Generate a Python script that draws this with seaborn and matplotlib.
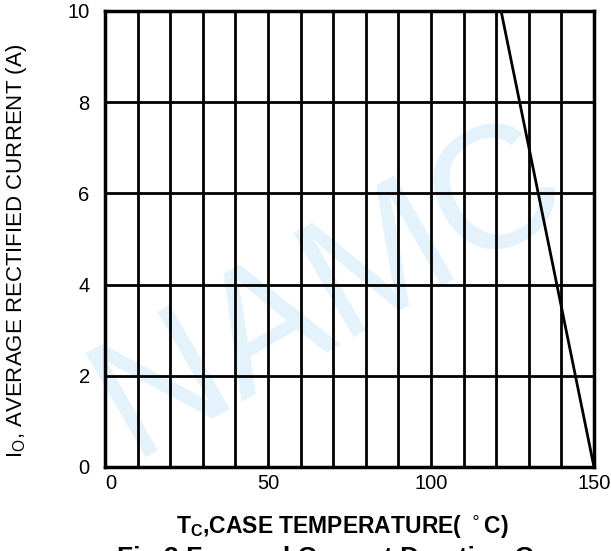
import matplotlib
matplotlib.use("Agg")
import matplotlib.pyplot as plt
import seaborn as sns
import pandas as pd

# Data
temperature = [121.5, 150]
current = [10, 0]
x_ticks = [0, 50, 100, 150]
y_ticks = [0, 2, 4, 6, 8, 10]
x_grid = list(range(0, 151, 10))
y_grid = [0, 2, 4, 6, 8, 10]

sns.set_theme(style="white")
plt.rcParams['font.family'] = ['Liberation Sans', 'DejaVu Sans']
plt.rcParams['text.color'] = 'black'
plt.rcParams['axes.labelcolor'] = 'black'
plt.rcParams['xtick.color'] = 'black'
plt.rcParams['ytick.color'] = 'black'

fig = plt.figure(figsize=(6.11, 5.51), dpi=100)
ax = fig.add_axes([105/611, 84/551, 489/611, 456/551])
ax.set_zorder(2)
ax.set_facecolor('none')

# watermark (behind the axes)
fig.text(330/611, 1 - 290/551, "NAMC", fontsize=125, fontweight='normal', color='#e4f2fc',
         rotation=30, ha='center', va='center', zorder=0)

df = pd.DataFrame({"T": temperature, "I": current})
sns.lineplot(data=df, x="T", y="I", ax=ax, color='black', linewidth=2, zorder=5)

for gx in x_grid:
    ax.axvline(gx, color='black', linewidth=2, zorder=3)
for gy in y_grid:
    ax.axhline(gy, color='black', linewidth=2, zorder=3)

ax.set_xlim(0, 150)
ax.set_ylim(0, 10)
ax.set_xticks(x_ticks)
ax.set_yticks(y_ticks)
ax.set_xticklabels([str(v) for v in x_ticks])
ax.set_yticklabels([str(v) for v in y_ticks])
ax.tick_params(axis='x', length=0, pad=5, labelsize=14.5)
ax.tick_params(axis='y', length=0, pad=11, labelsize=14.5)
ax.get_xticklabels()[0].set_ha('left')
for s in ax.spines.values():
    s.set_linewidth(2.5)
    s.set_color('black')
    s.set_visible(True)

ax.set_xlabel(r"T$_\mathregular{C}$,CASE TEMPERATURE( $^\circ$C)", fontsize=16.5,
              fontweight='bold')
ax.xaxis.set_label_coords(0.485, -0.10)
ax.set_ylabel(r"I$_\mathregular{O}$, AVERAGE RECTIFIED CURRENT (A)", fontsize=16)
ax.yaxis.set_label_coords(-0.155, 0.474)

fig.text(117/611, 1 - 546/551, "Fig.3 Forward Current Derating Curve", fontsize=19,
         fontweight='bold', ha='left', va='top')

fig.savefig("out.png", dpi=100)
